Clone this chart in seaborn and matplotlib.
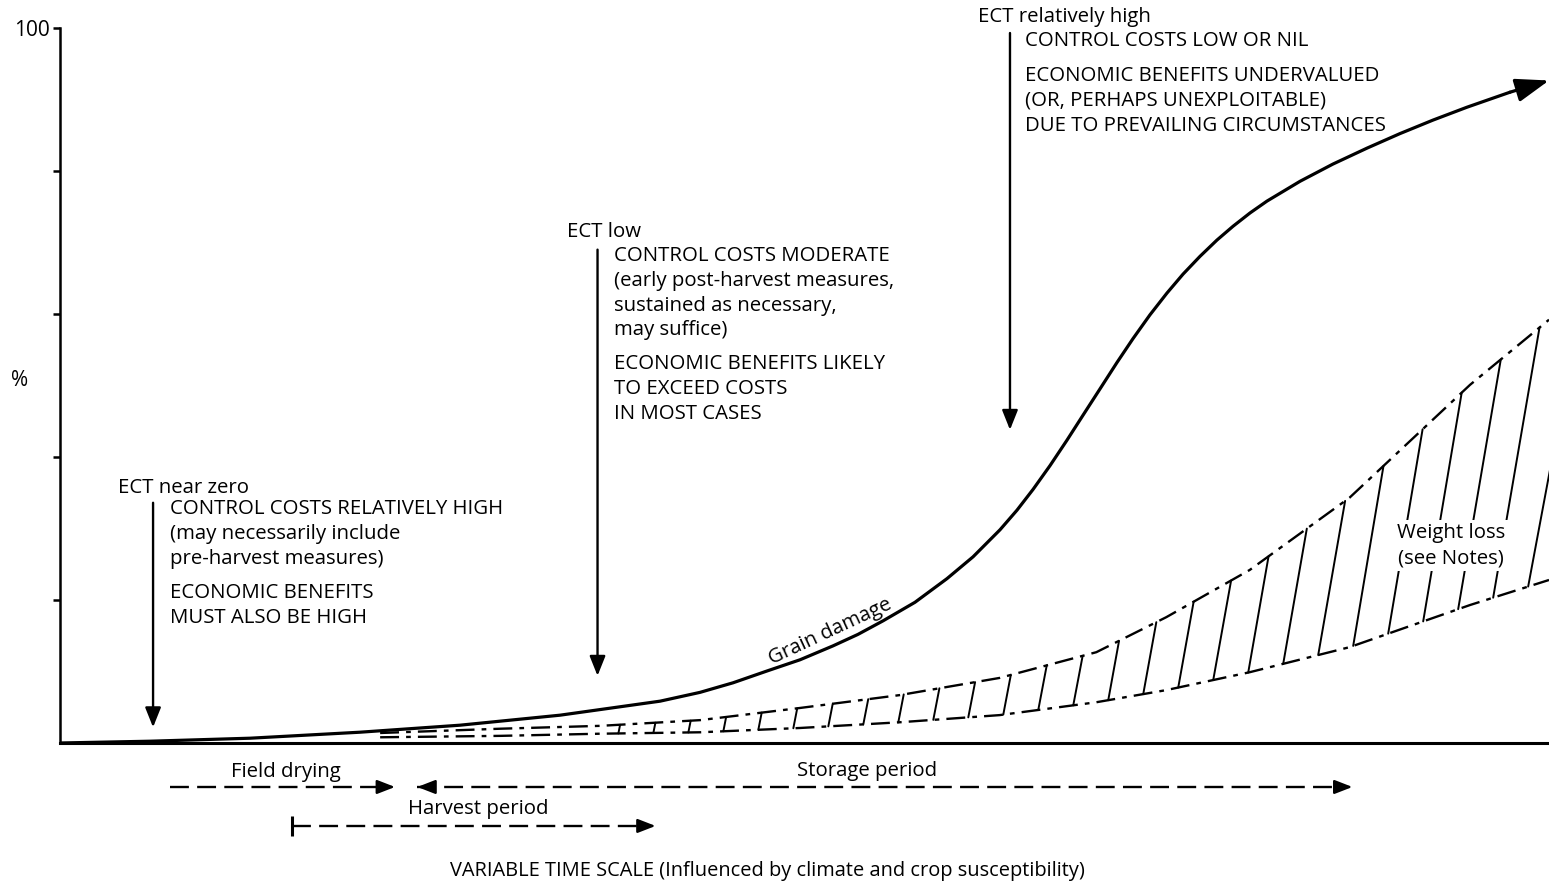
import numpy as np
import pandas as pd
import seaborn as sns
import matplotlib.pyplot as plt

# grain damage curve (x = relative time 0-100, y = %)
grain_time = [0, 6.04, 12.76, 20.15, 26.86, 33.58, 40.30, 42.98, 45.20, 47.48, 49.70,
              51.91, 53.59, 55.27, 57.42, 59.57, 61.32, 63.13, 64.27, 65.35, 66.49,
              67.63, 68.70, 69.85, 70.99, 72.06, 73.20, 74.34, 75.42, 76.56, 77.70,
              78.78, 79.92, 81.06, 83.28, 85.49, 87.78, 89.99, 92.21, 94.49, 97.38]
grain_damage = [0, 0.25, 0.67, 1.51, 2.49, 3.89, 5.85, 7.08, 8.42, 10.07, 11.64,
                13.58, 15.19, 17.08, 19.68, 22.99, 26.04, 29.82, 32.56, 35.47, 38.80,
                42.36, 45.83, 49.54, 53.23, 56.55, 59.88, 62.92, 65.57, 68.06, 70.34,
                72.27, 74.13, 75.79, 78.56, 80.97, 83.20, 85.23, 87.12, 88.92, 91.02]
grain_tip = (100.0, 92.66)

# weight loss band
weight_time = [21.5, 29.6, 36.3, 43.0, 49.7, 56.4, 63.1, 69.6, 74.3, 79.9, 86.6, 94.7, 100.0]
weight_upper = [1.4, 2.0, 2.4, 3.2, 4.9, 6.7, 9.1, 12.7, 17.6, 24.2, 34.3, 50.1, 59.2]
weight_lower = [0.8, 1.0, 1.3, 1.5, 2.1, 2.9, 3.9, 5.7, 7.4, 9.9, 13.4, 19.3, 22.8]

# ECT arrows: x, start y, end y
ect_x = [6.25, 36.1, 63.8]
ect_top = [33.6, 69.0, 99.3]
ect_bottom = [2.2, 9.4, 43.8]

# period arrows below the axis
periods = ['Field drying', 'Storage period', 'Harvest period']
period_start = [7.4, 24.0, 15.6]
period_end = [22.5, 86.8, 40.0]
period_label_x = [15.2, 54.2, 28.1]

sns.set_theme(style='white')
plt.rcParams['font.family'] = ['Open Sans', 'DejaVu Sans']
plt.rcParams['text.color'] = 'black'

fig = plt.figure(figsize=(15.49, 8.84), dpi=100)
ax = fig.add_axes([60 / 1549, 141 / 884, 1 - 60 / 1549, 715 / 884])

grain_df = pd.DataFrame({'time': grain_time, 'damage': grain_damage})
sns.lineplot(data=grain_df, x='time', y='damage', color='black', linewidth=2.3, ax=ax)
ax.annotate('', xy=grain_tip, xytext=(grain_time[-1], grain_damage[-1]),
            arrowprops=dict(arrowstyle='-|>,head_length=1.7,head_width=0.6',
                            color='black', lw=2.3, shrinkA=0, shrinkB=0),
            annotation_clip=False)

dashdot = (0, (8, 3, 2, 3))
sns.lineplot(x=weight_time, y=weight_upper, color='black', linewidth=1.7,
             linestyle=dashdot, ax=ax)
sns.lineplot(x=weight_time, y=weight_lower, color='black', linewidth=1.7,
             linestyle=dashdot, ax=ax)

# slanted hatch strokes between the two weight-loss lines
for xb in np.arange(37.5, 99.0, 2.35):
    yb = np.interp(xb, weight_time, weight_lower)
    xt = xb + 0.096 * (np.interp(xb, weight_time, weight_upper) - yb)
    yt = np.interp(xt, weight_time, weight_upper)
    ax.plot([xb, xt], [yb, yt], color='black', lw=1.4, zorder=2)

# ECT arrows
for x, y0, y1 in zip(ect_x, ect_top, ect_bottom):
    ax.annotate('', xy=(x, y1), xytext=(x, y0),
                arrowprops=dict(arrowstyle='-|>,head_length=1.0,head_width=0.4',
                                color='black', lw=1.7, shrinkA=0, shrinkB=0),
                annotation_clip=False)

fs = 14.7
ls = 1.32
ax.text(3.9, 35.7, 'ECT near zero', fontsize=fs, va='center')
ax.text(7.4, 29.2, 'CONTROL COSTS RELATIVELY HIGH\n(may necessarily include\npre-harvest measures)',
        fontsize=fs, va='center', linespacing=ls)
ax.text(7.4, 19.2, 'ECONOMIC BENEFITS\nMUST ALSO BE HIGH', fontsize=fs, va='center', linespacing=ls)

ax.text(34.05, 71.5, 'ECT low', fontsize=fs, va='center')
ax.text(37.2, 62.9, 'CONTROL COSTS MODERATE\n(early post-harvest measures,\nsustained as necessary,\nmay suffice)',
        fontsize=fs, va='center', linespacing=ls)
ax.text(37.2, 49.5, 'ECONOMIC BENEFITS LIKELY\nTO EXCEED COSTS\nIN MOST CASES',
        fontsize=fs, va='center', linespacing=ls)

ax.text(61.65, 101.6, 'ECT relatively high', fontsize=fs, va='center')
ax.text(64.8, 98.2, 'CONTROL COSTS LOW OR NIL', fontsize=fs, va='center')
ax.text(64.8, 89.8, 'ECONOMIC BENEFITS UNDERVALUED\n(OR, PERHAPS UNEXPLOITABLE)\nDUE TO PREVAILING CIRCUMSTANCES',
        fontsize=fs, va='center', linespacing=ls)

ax.text(51.7, 15.6, 'Grain damage', fontsize=fs, rotation=25, ha='center', va='center')
ax.text(93.4, 27.6, 'Weight loss\n(see Notes)', fontsize=fs, ha='center', va='center',
        linespacing=ls, zorder=5,
        bbox=dict(facecolor='white', edgecolor='none', pad=2))

# period arrows
period_y = [-6.15, -6.15, -11.6]
label_y = [-4.0, -3.9, -9.2]
dash = (0, (8, 3.5))
head = dict(arrowstyle='-|>,head_length=0.9,head_width=0.35',
            color='black', lw=1.7, shrinkA=0, shrinkB=0)
for name, x0, x1, lx, y, ly in zip(periods, period_start, period_end, period_label_x,
                                   period_y, label_y):
    ax.plot([x0, x1 - 0.5], [y, y], color='black', lw=1.7, linestyle=dash, clip_on=False)
    ax.annotate('', xy=(x1, y), xytext=(x1 - 1.0, y), arrowprops=head,
                annotation_clip=False)
    ax.text(lx, ly, name, fontsize=fs, ha='center', va='center')
# storage period points both ways, harvest period starts with a bar
ax.annotate('', xy=(period_start[1], period_y[1]), xytext=(period_start[1] + 1.0, period_y[1]),
            arrowprops=head, annotation_clip=False)
ax.plot([period_start[2]], [period_y[2]], marker='|', markersize=15, mew=2.2,
        color='black', clip_on=False)

ax.text(47.5, -17.9, 'VARIABLE TIME SCALE (Influenced by climate and crop susceptibility)',
        fontsize=14.4, ha='center', va='center')

ax.set_xlim(0, 100)
ax.set_ylim(0, 100)
ax.set_xticks([])
ax.set_yticks([20, 40, 60, 80, 100])
ax.set_yticklabels(['', '', '', '', '100'], fontsize=15)
ax.tick_params(axis='y', direction='out', length=5, width=1.8, left=True, pad=2, colors='black')
ax.set_xlabel('')
ax.set_ylabel('')
ax.text(-2.7, 50.7, '%', fontsize=15, ha='center', va='center')

sns.despine(ax=ax)
ax.spines['left'].set_linewidth(1.8)
ax.spines['bottom'].set_linewidth(2.2)
ax.spines['left'].set_color('black')
ax.spines['bottom'].set_color('black')

fig.savefig('out.png', dpi=100)
